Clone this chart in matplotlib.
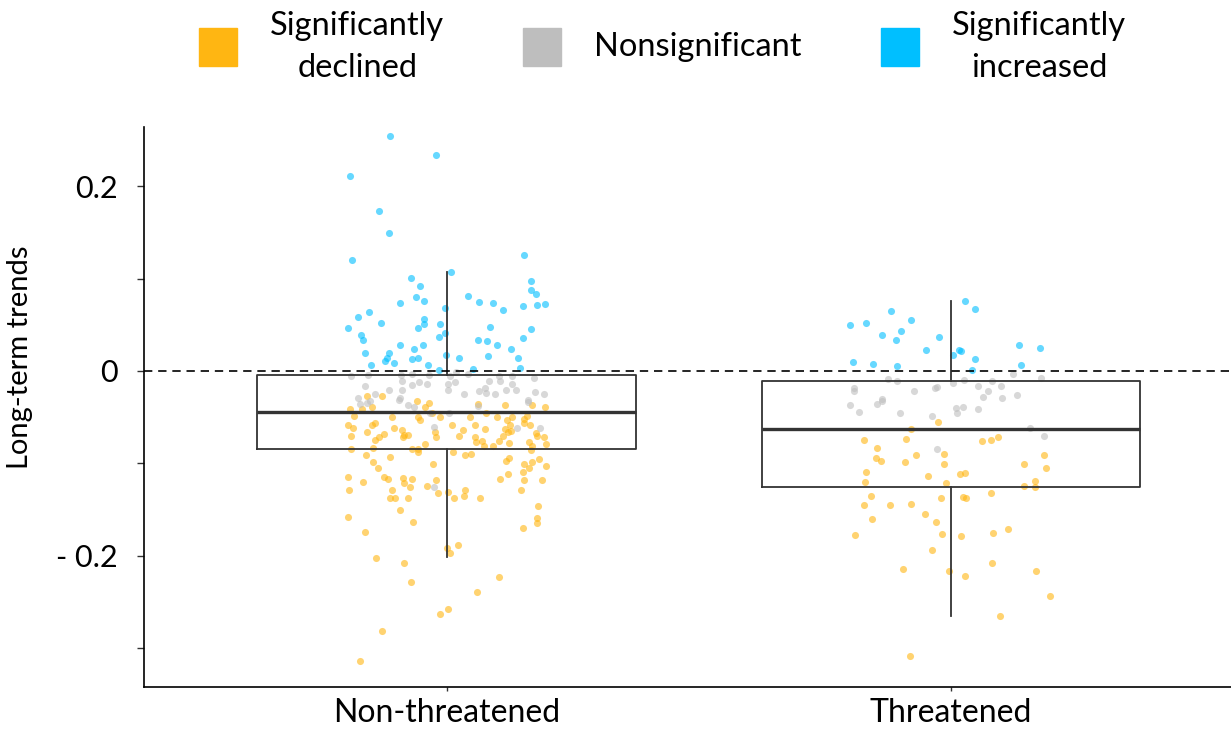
import numpy as np
import matplotlib
matplotlib.use("Agg")
import matplotlib.pyplot as plt
from matplotlib.lines import Line2D

plt.rcParams['font.family'] = ['Lato', 'DejaVu Sans']

groups = ["Non-threatened", "Threatened"]
legend_labels = ["Significantly\ndeclined", "Nonsignificant", "Significantly\nincreased"]
col_dec = "#FFB612"
col_ns = "#BEBEBE"
col_inc = "#00BFFF"

# box statistics (Non-threatened, Threatened)
box_q3 = [-0.004, -0.0105]
box_med = [-0.044, -0.063]
box_q1 = [-0.084, -0.126]
whis_hi = [0.107, 0.076]
whis_lo = [-0.201, -0.265]

# Non-threatened: jitter offset, trend
nt_inc_dx = [-0.113, -0.020, -0.192, -0.133, -0.115, -0.188, 0.153, 0.008, -0.071, -0.052,
             0.168, 0.167, 0.178, -0.061, 0.042, -0.044, -0.093, 0.065, 0.093, 0.113,
             0.151, 0.180, 0.196, -0.153, -0.176, -0.004, -0.129, -0.044, -0.044, -0.057,
             -0.012, -0.196, -0.170, -0.165, -0.004, -0.014, 0.087, 0.168, 0.063, 0.081,
             0.151, -0.093, -0.046, 0.101, -0.065, 0.127, -0.161, -0.115, -0.119, -0.123,
             -0.069, -0.057, -0.105, -0.002, 0.024, 0.083, 0.141, -0.149, -0.036, -0.014,
             0.052, 0.145]
nt_inc_y = [0.254, 0.234, 0.211, 0.173, 0.149, 0.120, 0.126, 0.107, 0.101, 0.092,
            0.097, 0.088, 0.083, 0.080, 0.081, 0.076, 0.074, 0.075, 0.074, 0.066,
            0.070, 0.071, 0.072, 0.064, 0.058, 0.068, 0.052, 0.056, 0.051, 0.046,
            0.051, 0.046, 0.039, 0.034, 0.041, 0.037, 0.048, 0.045, 0.034, 0.032,
            0.036, 0.028, 0.028, 0.028, 0.024, 0.024, 0.019, 0.019, 0.014, 0.011,
            0.013, 0.014, 0.009, 0.017, 0.014, 0.016, 0.014, 0.006, 0.006, 0.001,
            0.002, 0.003]
nt_ns_dx = [-0.190, -0.155, -0.091, -0.069, -0.034, 0.006, 0.018, 0.042, 0.105, 0.129,
            0.174, -0.161, -0.089, -0.069, -0.054, -0.038, 0.002, 0.016, 0.085, 0.107,
            0.129, 0.077, 0.065, 0.097, 0.117, 0.137, -0.141, -0.115, -0.089, 0.002,
            0.034, 0.176, 0.161, 0.194, -0.176, -0.093, 0.079, -0.172, -0.157, -0.151,
            -0.095, -0.077, -0.065, 0.004, 0.063, 0.161, -0.024, 0.139, 0.186, -0.032,
            -0.024]
nt_ns_y = [-0.006, -0.004, -0.004, -0.003, -0.004, -0.006, -0.001, -0.003, -0.005, -0.006,
           -0.008, -0.016, -0.011, -0.015, -0.012, -0.014, -0.014, -0.012, -0.011, -0.011,
           -0.014, -0.019, -0.022, -0.025, -0.021, -0.021, -0.025, -0.021, -0.021, -0.021,
           -0.025, -0.023, -0.031, -0.025, -0.029, -0.029, -0.024, -0.036, -0.035, -0.033,
           -0.031, -0.037, -0.039, -0.046, -0.038, -0.034, -0.061, -0.062, -0.062, -0.045,
           -0.126]
nt_dec_dx = [-0.157, -0.127, -0.147, -0.059, -0.034, 0.063, 0.115, 0.170, -0.192, -0.168,
             -0.042, 0.196, -0.184, -0.109, -0.056, -0.052, -0.028, -0.012, 0.046, 0.079,
             0.101, 0.119, 0.129, 0.153, 0.159, -0.196, -0.186, -0.147, -0.141, -0.105,
             0.010, 0.056, 0.077, 0.125, 0.115, 0.127, 0.165, 0.153, -0.157, -0.190,
             -0.141, -0.133, -0.125, -0.089, -0.085, -0.077, -0.087, -0.022, -0.020, 0.024,
             0.032, 0.056, 0.059, 0.071, 0.075, 0.093, 0.105, 0.113, 0.121, 0.123,
             0.163, 0.178, 0.180, 0.194, 0.198, 0.170, -0.042, -0.190, -0.145, -0.069,
             -0.057, -0.056, 0.012, 0.036, 0.048, 0.167, -0.159, -0.113, 0.123, 0.117,
             0.184, -0.145, -0.135, -0.026, 0.153, 0.170, 0.163, 0.151, 0.198, 0.121,
             -0.196, -0.125, -0.117, -0.087, -0.069, -0.085, -0.020, -0.165, 0.107, 0.153,
             0.190, -0.194, -0.109, -0.073, -0.038, -0.016, 0.002, 0.036, 0.034, 0.147,
             -0.113, -0.103, -0.077, 0.014, 0.067, 0.182, 0.180, 0.180, 0.151, -0.196,
             -0.093, -0.067, -0.161, 0.022, 0.000, 0.006, -0.139, -0.085, 0.105, -0.071,
             0.061, 0.002, -0.012, -0.127, -0.172]
nt_dec_y = [-0.027, -0.027, -0.039, -0.032, -0.035, -0.036, -0.037, -0.037, -0.041, -0.041,
            -0.039, -0.039, -0.049, -0.050, -0.050, -0.053, -0.045, -0.050, -0.050, -0.045,
            -0.050, -0.053, -0.050, -0.052, -0.049, -0.058, -0.062, -0.058, -0.056, -0.062,
            -0.058, -0.058, -0.063, -0.058, -0.063, -0.065, -0.058, -0.056, -0.066, -0.070,
            -0.075, -0.071, -0.068, -0.064, -0.069, -0.069, -0.072, -0.066, -0.071, -0.070,
            -0.064, -0.072, -0.077, -0.076, -0.081, -0.081, -0.076, -0.070, -0.066, -0.078,
            -0.077, -0.067, -0.070, -0.072, -0.079, -0.081, -0.079, -0.084, -0.083, -0.085,
            -0.084, -0.088, -0.088, -0.091, -0.090, -0.086, -0.091, -0.093, -0.094, -0.098,
            -0.095, -0.099, -0.105, -0.101, -0.101, -0.099, -0.105, -0.109, -0.103, -0.112,
            -0.115, -0.115, -0.117, -0.116, -0.117, -0.121, -0.118, -0.120, -0.117, -0.118,
            -0.118, -0.129, -0.129, -0.126, -0.125, -0.132, -0.131, -0.129, -0.135, -0.129,
            -0.138, -0.138, -0.138, -0.138, -0.138, -0.146, -0.159, -0.165, -0.170, -0.158,
            -0.150, -0.164, -0.174, -0.188, -0.192, -0.197, -0.202, -0.208, -0.223, -0.228,
            -0.239, -0.258, -0.263, -0.281, -0.314]

# Threatened: jitter offset, trend
th_inc_dx = [0.029, 0.049, -0.118, -0.167, -0.199, -0.078, -0.098, -0.136, -0.108, -0.023,
             -0.049, 0.017, 0.021, 0.005, 0.049, 0.136, 0.177, -0.193, -0.154, -0.106,
             0.140, 0.043]
th_inc_y = [0.076, 0.067, 0.065, 0.052, 0.050, 0.055, 0.043, 0.039, 0.034, 0.037,
            0.023, 0.023, 0.022, 0.017, 0.013, 0.028, 0.025, 0.010, 0.008, 0.005,
            0.006, 0.001]
th_ns_dx = [-0.124, -0.106, -0.191, -0.191, -0.072, -0.031, -0.027, 0.005, 0.027, 0.055,
            0.074, 0.082, 0.100, 0.124, 0.179, 0.132, 0.064, 0.102, -0.136, -0.199,
            -0.181, -0.146, -0.136, -0.100, -0.037, 0.011, 0.013, 0.025, 0.055, 0.158,
            0.185, -0.027]
th_ns_y = [-0.009, -0.011, -0.018, -0.022, -0.022, -0.019, -0.017, -0.013, -0.010, -0.016,
           -0.022, -0.011, -0.016, -0.003, -0.008, -0.026, -0.028, -0.029, -0.030, -0.037,
           -0.044, -0.036, -0.032, -0.046, -0.049, -0.040, -0.046, -0.039, -0.041, -0.062,
           -0.070, -0.085]
th_dec_dx = [-0.025, -0.078, -0.171, -0.088, -0.146, 0.062, 0.080, 0.094, -0.068, -0.013,
             -0.148, -0.138, -0.090, -0.013, 0.185, 0.146, 0.189, -0.167, -0.045, 0.019,
             0.029, -0.169, -0.009, 0.167, 0.146, 0.167, 0.080, -0.158, -0.019, 0.025,
             0.031, -0.171, -0.120, -0.078, -0.051, -0.156, -0.029, -0.189, -0.017, 0.021,
             0.084, 0.114, -0.037, -0.094, -0.003, 0.029, 0.082, 0.169, 0.197, 0.098,
             -0.080]
th_dec_y = [-0.055, -0.063, -0.075, -0.074, -0.083, -0.076, -0.075, -0.072, -0.091, -0.090,
            -0.094, -0.098, -0.099, -0.101, -0.091, -0.101, -0.105, -0.109, -0.114, -0.112,
            -0.110, -0.120, -0.121, -0.119, -0.125, -0.126, -0.132, -0.135, -0.137, -0.136,
            -0.137, -0.145, -0.145, -0.144, -0.155, -0.160, -0.163, -0.178, -0.176, -0.179,
            -0.175, -0.171, -0.194, -0.214, -0.216, -0.222, -0.208, -0.217, -0.244, -0.265,
            -0.308]

fig = plt.figure(figsize=(12.31, 7.30), dpi=100)
ax = fig.add_axes([0.117, 0.059, 0.883, 0.767])

pt = dict(s=26, alpha=0.6, linewidths=0, zorder=2)
for pos, dx, y, c in [(1, nt_dec_dx, nt_dec_y, col_dec), (1, nt_ns_dx, nt_ns_y, col_ns),
                      (1, nt_inc_dx, nt_inc_y, col_inc), (2, th_dec_dx, th_dec_y, col_dec),
                      (2, th_ns_dx, th_ns_y, col_ns), (2, th_inc_dx, th_inc_y, col_inc)]:
    ax.scatter(pos + np.array(dx), y, color=c, **pt)

stats = []
for i in range(2):
    stats.append(dict(med=box_med[i], q1=box_q1[i], q3=box_q3[i],
                      whislo=whis_lo[i], whishi=whis_hi[i], fliers=[]))
ax.bxp(stats, positions=[1, 2], widths=0.75, showfliers=False, showcaps=False,
       patch_artist=False, manage_ticks=False,
       boxprops=dict(color="#333333", linewidth=1.3),
       whiskerprops=dict(color="#333333", linewidth=1.3),
       medianprops=dict(color="#333333", linewidth=2.4),
       zorder=3)

ax.axhline(0, color="black", linestyle=(0, (5, 3.5)), linewidth=1.2, zorder=4)

ax.set_xlim(0.4, 2.556)
ax.set_ylim(-0.342, 0.264)
ax.set_xticks([1, 2])
ax.set_xticklabels(groups, fontsize=23)
ax.set_yticks([-0.2, 0, 0.2])
ax.set_yticklabels(["- 0.2", "0", "0.2"], fontsize=22)
ax.set_yticks([-0.3, -0.1, 0.1], minor=True)
ax.tick_params(axis="y", which="both", length=5, width=1, color="#333333", pad=14)
ax.tick_params(axis="x", length=3, width=1, color="#333333", pad=5)
ax.set_ylabel("Long-term trends", fontsize=21)
ax.yaxis.set_label_coords(-0.102, 0.589)
for s in ["top", "right"]:
    ax.spines[s].set_visible(False)
for s in ["left", "bottom"]:
    ax.spines[s].set_linewidth(1.2)

handles = [Line2D([], [], marker="s", linestyle="none", markersize=27, color=c)
           for c in [col_dec, col_ns, col_inc]]
leg = fig.legend(handles, legend_labels, loc="upper center", bbox_to_anchor=(0.538, 1.025),
                 ncol=3, frameon=False, fontsize=23.5, handlelength=1.2,
                 handletextpad=1.0, columnspacing=2.4)
for t in leg.get_texts():
    t.set_multialignment("center")
    t.set_linespacing(1.5)
leg._legend_handle_box.align = "center"
for col in leg._legend_handle_box.get_children():
    for item in col.get_children():
        item.align = "center"

fig.savefig("out.png", dpi=100)
